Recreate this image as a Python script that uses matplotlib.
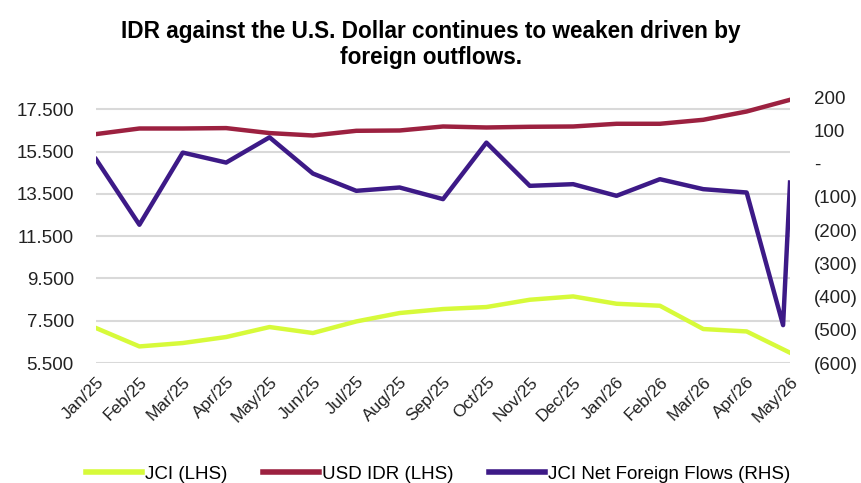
import matplotlib.pyplot as plt
from matplotlib.ticker import FuncFormatter, FixedLocator

months = ["Jan/25", "Feb/25", "Mar/25", "Apr/25", "May/25", "Jun/25", "Jul/25", "Aug/25",
          "Sep/25", "Oct/25", "Nov/25", "Dec/25", "Jan/26", "Feb/26", "Mar/26", "Apr/26", "May/26"]
jci = [7155, 6285, 6446, 6730, 7202, 6919, 7467, 7865, 8053, 8148, 8493, 8650,
       8304, 8210, 7108, 6994, 5987]
usd_idr = [16329, 16594, 16594, 16613, 16377, 16263, 16485, 16500, 16689, 16642, 16675, 16689,
           16817, 16817, 17006, 17398, 17952]
# net foreign flows has two readings in the last month (mid-month low, then month end)
flow_pos = [0, 1, 2, 3, 4, 5, 6, 7, 8, 9, 10, 11, 12, 13, 14, 15, 15.84, 16]
flows = [13, -184, 33, 3, 79, -30, -82, -72, -107, 63, -67, -62, -97, -47, -77, -87, -486, -57]

left_ticks = [5500, 7500, 9500, 11500, 13500, 15500, 17500]
right_ticks = [-600, -500, -400, -300, -200, -100, 0, 100, 200]

c_jci = "#D7FA3A"
c_usd = "#9C2140"
c_flow = "#3D1A87"
plt.rcParams["font.family"] = ["Liberation Sans", "DejaVu Sans"]

fig = plt.figure(figsize=(8.62, 4.83), dpi=100)
ax = fig.add_axes([0.1114, 0.2484, 0.8051, 0.5506])
ax2 = ax.twinx()

x = list(range(len(months)))
ax.plot(x, jci, color=c_jci, lw=3.2, label="JCI (LHS)", zorder=3)
ax.plot(x, usd_idr, color=c_usd, lw=3.2, label="USD IDR (LHS)", zorder=3)
ax2.plot(flow_pos, flows, color=c_flow, lw=3.2, label="JCI Net Foreign Flows (RHS)", zorder=3)

ax.set_xlim(0, len(months) - 1)
ax.set_ylim(5500, 18080)
ax2.set_ylim(-600, 200)

ax.yaxis.set_major_locator(FixedLocator(left_ticks))
ax2.yaxis.set_major_locator(FixedLocator(right_ticks))
ax.yaxis.set_major_formatter(FuncFormatter(lambda v, p: f"{v:,.0f}".replace(",", ".")))


def fmt_flow(v, p):
    if v == 0:
        return "-"
    if v < 0:
        return f"({-v:,.0f})"
    return f"{v:,.0f}"


ax2.yaxis.set_major_formatter(FuncFormatter(fmt_flow))

ax.set_xticks(x)
ax.set_xticklabels(months, rotation=45, ha="right", rotation_mode="anchor", fontsize=12.5)
ax.grid(axis="y", color="#D9D9D9", lw=1.5, zorder=0)
ax.set_axisbelow(True)
for a in (ax, ax2):
    for s in a.spines.values():
        s.set_visible(False)
    a.tick_params(length=0, labelsize=13.5, colors="#222222")
ax.tick_params(axis="y", pad=16)
ax2.tick_params(axis="y", pad=17)
ax.tick_params(axis="x", pad=8, labelsize=12.5)

fig.suptitle("IDR against the U.S. Dollar continues to weaken driven by\nforeign outflows.",
             x=0.5, y=0.958, fontsize=16.3, fontweight="bold", linespacing=1.15)

handles = ax.get_lines() + ax2.get_lines()
leg = fig.legend(handles, [h.get_label() for h in handles], loc="center", ncol=3,
                 bbox_to_anchor=(0.508, 0.018), frameon=False, fontsize=13.5,
                 handlelength=3.0, handletextpad=0.15, columnspacing=1.9)
for h in leg.get_lines():
    h.set_linewidth(4)

plt.savefig("out.png", dpi=100)
